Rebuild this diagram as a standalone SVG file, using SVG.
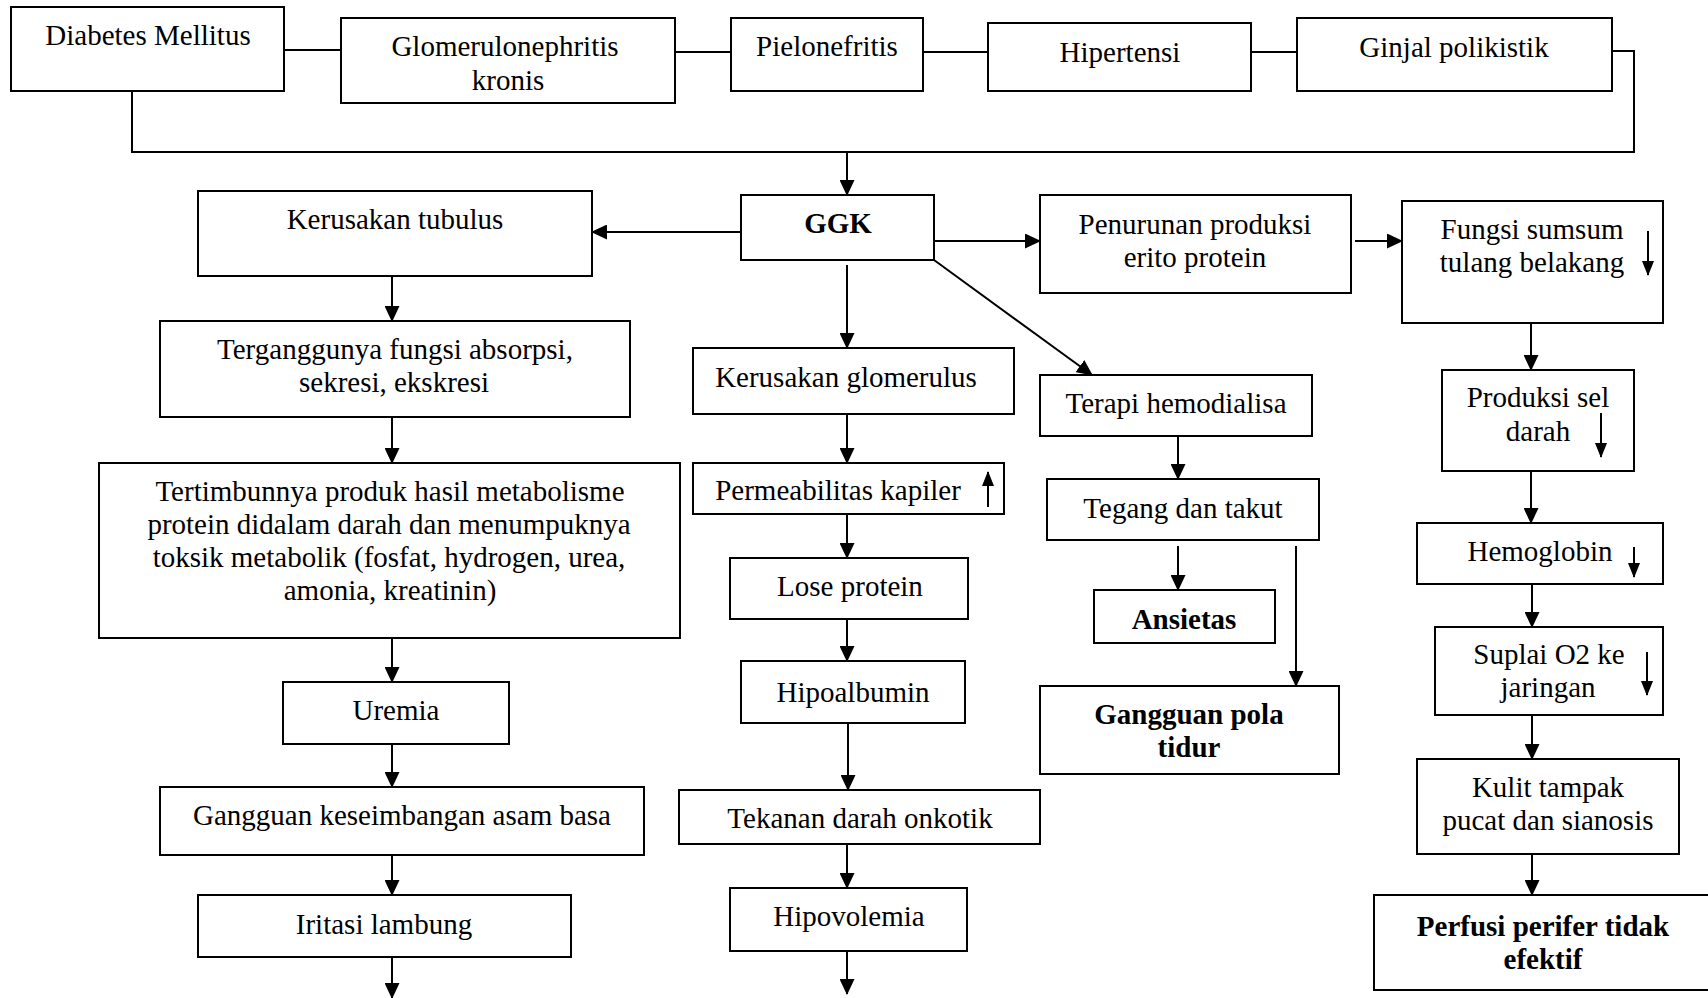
<svg xmlns="http://www.w3.org/2000/svg" width="1708" height="998" viewBox="0 0 1708 998">
<defs>
<marker id="arr" markerUnits="userSpaceOnUse" markerWidth="16" markerHeight="15" refX="15" refY="7.5" orient="auto">
<path d="M0,0 L16,7.5 L0,15 Z" fill="#000"/>
</marker>
<marker id="arrs" markerUnits="userSpaceOnUse" markerWidth="15" markerHeight="12" refX="14" refY="6" orient="auto">
<path d="M0,0 L15,6 L0,12 Z" fill="#000"/>
</marker>
<style>
rect{fill:#fff;stroke:#000;stroke-width:2}
text{font-family:"Liberation Serif","Times New Roman",serif;font-size:29px;fill:#000;text-anchor:middle}
.b{font-weight:bold}
.c{fill:none;stroke:#000;stroke-width:2}
.a{marker-end:url(#arr)}
.s{fill:none;stroke:#000;stroke-width:2;marker-end:url(#arrs)}
</style>
</defs>
<rect x="0" y="0" width="1708" height="998" style="fill:#fff;stroke:none"/>
<g id="connectors">
<path class="c" d="M284,50 H341"/>
<path class="c" d="M675,52 H731"/>
<path class="c" d="M923,52 H988"/>
<path class="c" d="M1249,52 H1297"/>
<path class="c" d="M1612,51 H1634 V152 H132 V91"/>
<path class="c a" d="M847,152 V195"/>
<path class="c a" d="M741,232 H592"/>
<path class="c a" d="M934,241 H1040"/>
<path class="c a" d="M847,265 V348"/>
<path class="c a" d="M934,260 L1092,375"/>
<path class="c a" d="M1355,241 H1402"/>
<path class="c a" d="M392,276 V321"/>
<path class="c a" d="M392,417 V463"/>
<path class="c a" d="M392,638 V682"/>
<path class="c a" d="M392,744 V787"/>
<path class="c a" d="M392,851 V895"/>
<path class="c a" d="M392,957 V998"/>
<path class="c a" d="M847,414 V463"/>
<path class="c a" d="M847,514 V558"/>
<path class="c a" d="M847,619 V661"/>
<path class="c a" d="M848,723 V790"/>
<path class="c a" d="M847,844 V888"/>
<path class="c a" d="M847,951 V994"/>
<path class="c a" d="M1178,436 V479"/>
<path class="c a" d="M1178,546 V590"/>
<path class="c a" d="M1296,546 V686"/>
<path class="c a" d="M1531,323 V370"/>
<path class="c a" d="M1531,471 V523"/>
<path class="c a" d="M1532,584 V627"/>
<path class="c a" d="M1532,715 V759"/>
<path class="c a" d="M1532,854 V895"/>
</g>
<g id="dm"><rect x="11" y="7" width="273" height="84"/><text x="148" y="45">Diabetes Mellitus</text></g>
<g id="gn"><rect x="341" y="18" width="334" height="85"/><text x="505" y="56">Glomerulonephritis</text><text x="508" y="90">kronis</text></g>
<g id="pn"><rect x="731" y="18" width="192" height="73"/><text x="827" y="56">Pielonefritis</text></g>
<g id="ht"><rect x="988" y="23" width="263" height="68"/><text x="1120" y="62">Hipertensi</text></g>
<g id="gp"><rect x="1297" y="18" width="315" height="73"/><text x="1454" y="57">Ginjal polikistik</text></g>
<g id="ggk"><rect x="741" y="195" width="193" height="65"/><text class="b" x="838" y="233">GGK</text></g>
<g id="kt"><rect x="198" y="191" width="394" height="85"/><text x="395" y="229">Kerusakan tubulus</text></g>
<g id="tg"><rect x="160" y="321" width="470" height="96"/><text x="395" y="359">Terganggunya fungsi absorpsi,</text><text x="394" y="392">sekresi, ekskresi</text></g>
<g id="tt"><rect x="99" y="463" width="581" height="175"/><text x="390" y="501">Tertimbunnya produk hasil metabolisme</text><text x="389" y="534">protein didalam darah dan menumpuknya</text><text x="389" y="567">toksik metabolik (fosfat, hydrogen, urea,</text><text x="390" y="600">amonia, kreatinin)</text></g>
<g id="ur"><rect x="283" y="682" width="226" height="62"/><text x="396" y="720">Uremia</text></g>
<g id="gk"><rect x="160" y="787" width="484" height="68"/><text x="402" y="825">Gangguan keseimbangan asam basa</text></g>
<g id="il"><rect x="198" y="895" width="373" height="62"/><text x="384" y="934">Iritasi lambung</text></g>
<g id="kg"><rect x="693" y="348" width="321" height="66"/><text x="846" y="387">Kerusakan glomerulus</text></g>
<g id="pk"><rect x="693" y="463" width="311" height="51"/><text x="838" y="500">Permeabilitas kapiler</text><path class="s" d="M988,507 V472"/></g>
<g id="lp"><rect x="730" y="558" width="238" height="61"/><text x="850" y="596">Lose protein</text></g>
<g id="ha"><rect x="741" y="661" width="224" height="62"/><text x="853" y="702">Hipoalbumin</text></g>
<g id="td"><rect x="679" y="790" width="361" height="54"/><text x="860" y="828">Tekanan darah onkotik</text></g>
<g id="hv"><rect x="730" y="888" width="237" height="63"/><text x="849" y="926">Hipovolemia</text></g>
<g id="pp"><rect x="1040" y="195" width="311" height="98"/><text x="1195" y="234">Penurunan produksi</text><text x="1195" y="267">erito protein</text></g>
<g id="th"><rect x="1040" y="375" width="272" height="61"/><text x="1176" y="413">Terapi hemodialisa</text></g>
<g id="tk"><rect x="1047" y="479" width="272" height="61"/><text x="1183" y="518">Tegang dan takut</text></g>
<g id="an"><rect x="1094" y="590" width="181" height="53"/><text class="b" x="1184" y="629">Ansietas</text></g>
<g id="gpt"><rect x="1040" y="686" width="299" height="88"/><text class="b" x="1189" y="724">Gangguan pola</text><text class="b" x="1189" y="757">tidur</text></g>
<g id="fs"><rect x="1402" y="201" width="261" height="122"/><text x="1532" y="239">Fungsi sumsum</text><text x="1532" y="272">tulang belakang</text><path class="s" d="M1648,231 V275"/></g>
<g id="ps"><rect x="1442" y="370" width="192" height="101"/><text x="1538" y="407">Produksi sel</text><text x="1538" y="441">darah</text><path class="s" d="M1601,413 V457"/></g>
<g id="hb"><rect x="1417" y="523" width="246" height="61"/><text x="1540" y="561">Hemoglobin</text><path class="s" d="M1634,547 V577"/></g>
<g id="so"><rect x="1435" y="627" width="228" height="88"/><text x="1549" y="664">Suplai O2 ke</text><text x="1548" y="697">jaringan</text><path class="s" d="M1647,652 V695"/></g>
<g id="kl"><rect x="1417" y="759" width="262" height="95"/><text x="1548" y="797">Kulit tampak</text><text x="1548" y="830">pucat dan sianosis</text></g>
<g id="pf"><rect x="1374" y="895" width="340" height="95"/><text class="b" x="1543" y="936">Perfusi perifer tidak</text><text class="b" x="1543" y="969">efektif</text></g>
</svg>
